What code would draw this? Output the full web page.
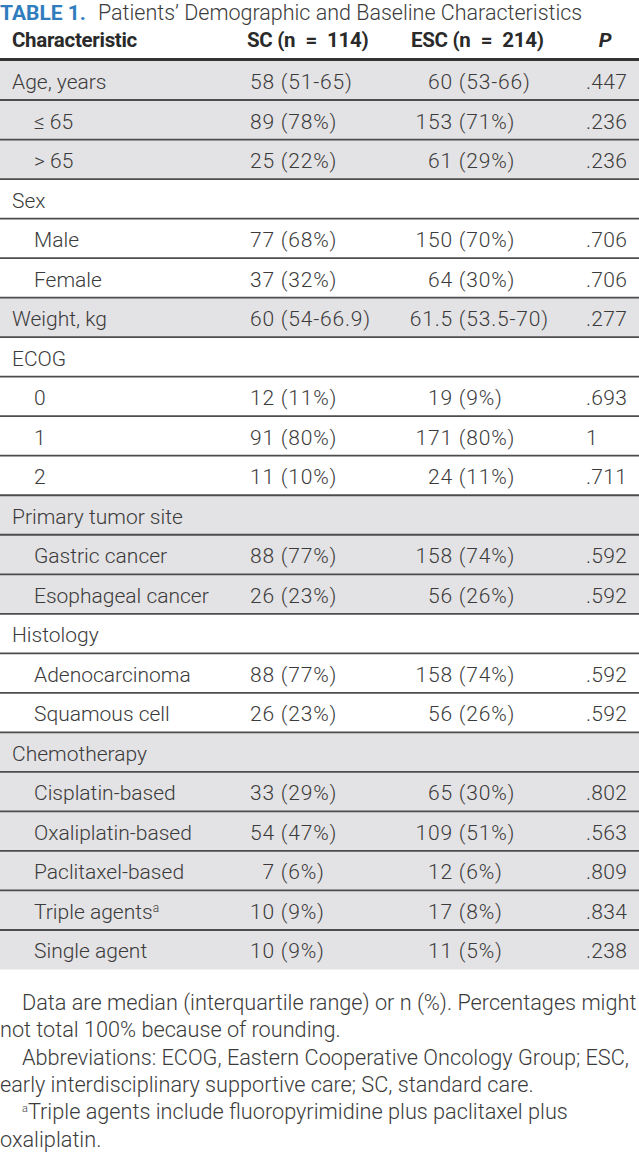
<!DOCTYPE html>
<html>
<head>
<meta charset="utf-8">
<script src="https://cdn.jsdelivr.net/npm/d3@7"></script>
<style>
  html, body { margin: 0; padding: 0; background: #fff; }
  svg { display: block; }
</style>
</head>
<body>
<div id="vis"></div>
<script>
// table content, row by row
const characteristics = [
  'Age, years', '≤ 65', '> 65',
  'Sex', 'Male', 'Female',
  'Weight, kg',
  'ECOG', '0', '1', '2',
  'Primary tumor site', 'Gastric cancer', 'Esophageal cancer',
  'Histology', 'Adenocarcinoma', 'Squamous cell',
  'Chemotherapy', 'Cisplatin-based', 'Oxaliplatin-based', 'Paclitaxel-based', 'Triple agents', 'Single agent'
]
const levels = [0, 1, 1, 0, 1, 1, 0, 0, 1, 1, 1, 0, 1, 1, 0, 1, 1, 0, 1, 1, 1, 1, 1]
const groups = [0, 0, 0, 1, 1, 1, 2, 3, 3, 3, 3, 4, 4, 4, 5, 5, 5, 6, 6, 6, 6, 6, 6]
const footMarks = ['', '', '', '', '', '', '', '', '', '', '', '', '', '', '', '', '', '', '', '', '', 'a', '']

const scValues = [
  '58 (51-65)', '89 (78%)', '25 (22%)',
  '', '77 (68%)', '37 (32%)',
  '60 (54-66.9)',
  '', '12 (11%)', '91 (80%)', '11 (10%)',
  '', '88 (77%)', '26 (23%)',
  '', '88 (77%)', '26 (23%)',
  '', '33 (29%)', '54 (47%)', '7 (6%)', '10 (9%)', '10 (9%)'
]
const escValues = [
  '60 (53-66)', '153 (71%)', '61 (29%)',
  '', '150 (70%)', '64 (30%)',
  '61.5 (53.5-70)',
  '', '19 (9%)', '171 (80%)', '24 (11%)',
  '', '158 (74%)', '56 (26%)',
  '', '158 (74%)', '56 (26%)',
  '', '65 (30%)', '109 (51%)', '12 (6%)', '17 (8%)', '11 (5%)'
]
const pValues = [
  '.447', '.236', '.236',
  '', '.706', '.706',
  '.277',
  '', '.693', '1', '.711',
  '', '.592', '.592',
  '', '.592', '.592',
  '', '.802', '.563', '.809', '.834', '.238'
]

const headers = ['Characteristic', 'SC (n\u2002=\u2002114)', 'ESC (n\u2002=\u2002214)', 'P']
const titleLabel = 'TABLE 1.'
const titleText = 'Patients’ Demographic and Baseline Characteristics'
const footnotes = [
  { text: 'Data are median (interquartile range) or n (%). Percentages might', indent: true },
  { text: 'not total 100% because of rounding.', indent: false },
  { text: 'Abbreviations: ECOG, Eastern Cooperative Oncology Group; ESC,', indent: true },
  { text: 'early interdisciplinary supportive care; SC, standard care.', indent: false },
  { text: 'Triple agents include fluoropyrimidine plus paclitaxel plus', indent: true, mark: 'a' },
  { text: 'oxaliplatin.', indent: false }
]

const width = 639,
  height = 1167,
  bodyFont = 'Roboto, "Noto Sans", sans-serif',
  textColor = '#3b3b3b',
  shade = '#e3e2e4',
  fs = 21

const svg = d3
  .select('#vis')
  .append('svg')
  .attr('width', width)
  .attr('height', height)

// rows
const y = d3
  .scaleBand()
  .domain(d3.range(characteristics.length))
  .range([60.5, 969.5])

// title
const title = svg
  .append('text')
  .attr('x', 0)
  .attr('y', 20)
  .style('font-family', bodyFont)
title
  .append('tspan')
  .style('font-size', '21px')
  .style('font-weight', 700)
  .style('fill', '#2f7dbd')
  .text(titleLabel)
title
  .append('tspan')
  .attr('dx', 12)
  .style('font-size', '21.5px')
  .style('font-weight', 300)
  .style('fill', textColor)
  .text(titleText)

// header
const headerG = svg.append('g').style('font-family', bodyFont).style('font-weight', 700).style('fill', '#2a2a2a')
const headerX = [12, 247, 411, 605]
headerG
  .selectAll('text')
  .data(headers)
  .join('text')
  .attr('x', (d, i) => headerX[i])
  .attr('y', 47)
  .attr('text-anchor', (d, i) => (i === 3 ? 'middle' : 'start'))
  .style('font-size', '20.5px')
  .style('font-style', (d, i) => (i === 3 ? 'italic' : 'normal'))
  .style('letter-spacing', '-0.3px')
  .text((d) => d)

// row backgrounds
const rowG = svg.append('g')
rowG
  .selectAll('rect')
  .data(characteristics)
  .join('rect')
  .attr('x', 0)
  .attr('y', (d, i) => y(i))
  .attr('width', width)
  .attr('height', y.bandwidth())
  .attr('fill', (d, i) => (groups[i] % 2 === 0 ? shade : '#fff'))

// row separators
rowG
  .selectAll('line')
  .data(characteristics.slice(1))
  .join('line')
  .attr('x1', 0)
  .attr('x2', width)
  .attr('y1', (d, i) => y(i + 1))
  .attr('y2', (d, i) => y(i + 1))
  .attr('stroke', '#4d4d4d')
  .attr('stroke-width', 1.8)

svg
  .append('line')
  .attr('x1', 0)
  .attr('x2', width)
  .attr('y1', 59.5)
  .attr('y2', 59.5)
  .attr('stroke', '#333')
  .attr('stroke-width', 2.8)

const cells = svg
  .append('g')
  .style('font-family', bodyFont)
  .style('font-weight', 300)
  .style('font-size', fs + 'px')
  .style('fill', textColor)

const baseline = (i) => y(i) + 28.5

// characteristic labels
const labels = cells
  .selectAll('text.label')
  .data(characteristics)
  .join('text')
  .attr('class', 'label')
  .attr('x', (d, i) => (levels[i] ? 34 : 12))
  .attr('y', (d, i) => baseline(i))
  .text((d) => d)
labels
  .filter((d, i) => footMarks[i])
  .append('tspan')
  .attr('dy', -7)
  .style('font-size', '12px')
  .text((d, i) => footMarks[characteristics.indexOf(d)])

const numbers = cells.append('g').style('letter-spacing', '0.8px')

// width of two digits, used to align the columns on the opening parenthesis
const probe = numbers.append('text').text('00')
const twoDigits = probe.node().getComputedTextLength()
probe.remove()

const valueColumn = (values, leftEdge) => {
  const anchor = leftEdge + twoDigits
  const g = numbers.append('g')
  g.selectAll('text.lead')
    .data(values)
    .join('text')
    .attr('class', 'lead')
    .attr('x', anchor)
    .attr('y', (d, i) => baseline(i))
    .attr('text-anchor', 'end')
    .text((d) => (d ? d.split(' ')[0] : ''))
  g.selectAll('text.rest')
    .data(values)
    .join('text')
    .attr('class', 'rest')
    .attr('x', anchor)
    .attr('y', (d, i) => baseline(i))
    .style('white-space', 'pre')
    .text((d) => (d ? ' ' + d.split(' ').slice(1).join(' ') : ''))
}

valueColumn(scValues, 250)
valueColumn(escValues, 428)

cells
  .selectAll('text.p')
  .data(pValues)
  .join('text')
  .attr('class', 'p')
  .attr('x', 586)
  .attr('y', (d, i) => baseline(i))
  .style('letter-spacing', '0.3px')
  .text((d) => d)

// footnotes
const notes = svg
  .append('g')
  .style('font-family', bodyFont)
  .style('font-weight', 300)
  .style('font-size', '19px')
  .style('fill', textColor)

const noteText = notes
  .selectAll('text')
  .data(footnotes)
  .join('text')
  .attr('x', (d) => (d.indent ? 22 : 0))
  .attr('y', (d, i) => 1010 + i * 27.3)
noteText
  .filter((d) => d.mark)
  .append('tspan')
  .attr('dy', -7)
  .style('font-size', '11px')
  .text((d) => d.mark)
noteText
  .append('tspan')
  .attr('dy', (d) => (d.mark ? 7 : 0))
  .text((d) => d.text)

// fit the first footnote line to the page width
const firstLen = noteText.node().getComputedTextLength()
const scale = 615 / firstLen
notes.style('font-size', 19 * scale + 'px')
</script>
</body>
</html>
